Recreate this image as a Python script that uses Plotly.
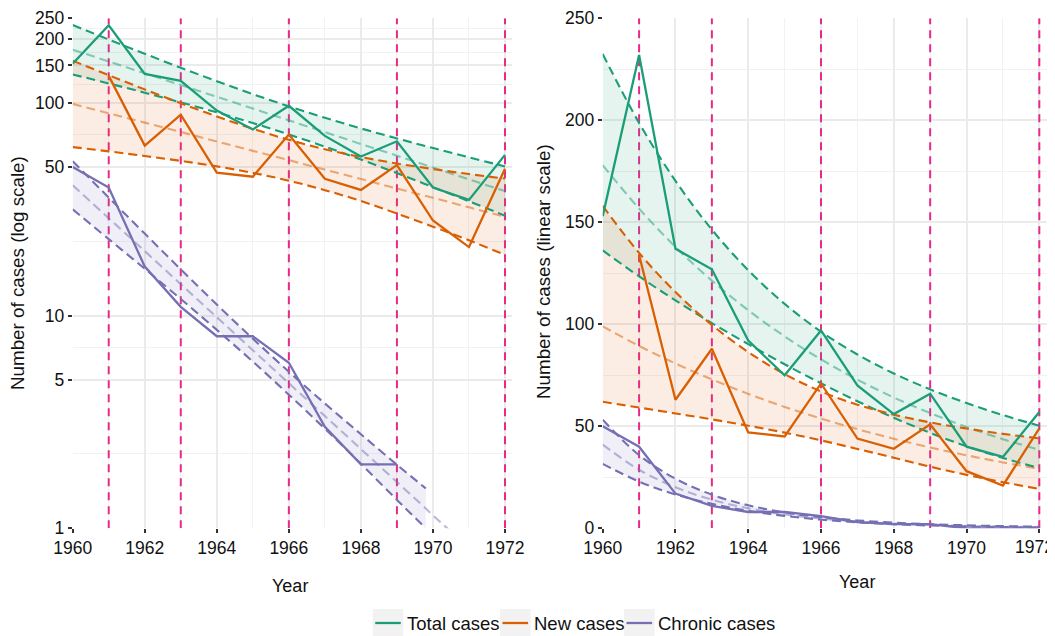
import math
import plotly.graph_objects as go

# ---------------- data ----------------
years = [1960, 1961, 1962, 1963, 1964, 1965, 1966, 1967, 1968, 1969, 1970, 1971, 1972]
total_cases = [153, 232, 137, 127, 92, 75, 97, 70, 56, 66, 40, 35, 57]
new_cases = [None, 134, 63, 88, 47, 45, 71, 44, 39, 51, 28, 21, 49]
chronic_cases = [50, 40, 17, 11, 8, 8, 6, 3, 2, 2, 0, 0, 0]

fit_years = [1960, 1961, 1962, 1963, 1964, 1965, 1966, 1967, 1968, 1969, 1970, 1971, 1972]
total_fit_mean = [178.0, 156.7, 137.9, 121.4, 106.9, 94.1, 82.8, 72.9, 64.1, 56.5, 49.7, 43.7, 38.5]
total_fit_upper = [232.5, 198.7, 170.3, 146.4, 126.5, 110.0, 96.4, 85.2, 75.9, 68.1, 61.4, 55.5, 50.3]
total_fit_lower = [136.2, 123.5, 111.7, 100.6, 90.3, 80.4, 71.1, 62.3, 54.2, 46.8, 40.2, 34.5, 29.5]

new_fit_mean = [99.0, 89.4, 80.8, 73.0, 65.9, 59.5, 53.8, 48.6, 43.9, 39.6, 35.8, 32.3, 29.2]
new_fit_upper = [158.0, 135.0, 115.8, 99.7, 86.4, 75.6, 67.1, 60.6, 55.7, 51.9, 48.9, 46.3, 44.1]
new_fit_lower = [62.0, 59.2, 56.3, 53.4, 50.3, 46.9, 43.1, 38.9, 34.6, 30.2, 26.2, 22.6, 19.3]

chronic_fit_years = [1960, 1961, 1962, 1963, 1964, 1965, 1966, 1967, 1968, 1969, 1969.8, 1970, 1971, 1972]
chronic_fit_mean = [41.0, 28.7, 20.1, 14.05, 9.83, 6.88, 4.81, 3.37, 2.36, 1.65, 1.24, 1.15, 0.81, 0.56]
chronic_fit_upper = [53.2, 35.9, 24.3, 16.5, 11.27, 7.79, 5.45, 3.86, 2.77, 1.99, 1.54, 1.44, 1.05, 0.76]
chronic_fit_lower = [31.6, 22.9, 16.6, 11.97, 8.57, 6.08, 4.25, 2.94, 2.01, 1.36, 1.00, 0.92, 0.62, 0.42]

change_years = [1961, 1963, 1966, 1969, 1972]

series_names = ["Total cases", "New cases", "Chronic cases"]

log_tick_vals = [1, 5, 10, 50, 100, 150, 200, 250]
lin_tick_vals = [0, 50, 100, 150, 200, 250]
x_tick_vals = [1960, 1962, 1964, 1966, 1968, 1970, 1972]

# ---------------- styling ----------------
GREEN = "#1B9E77"
ORANGE = "#D95F02"
PURPLE = "#7570B3"
PINK = "#E7298A"
FONT = "Liberation Sans, Arial, sans-serif"
W, H = 1055, 636
OX, OY = 8, 8  # the page body offsets the figure by its default margin


def px_x(p):
    return (p - OX) / W


def px_y(p):
    return 1 - (p - OY) / H


def rgba(h, a):
    h = h.lstrip("#")
    r, g, b = int(h[0:2], 16), int(h[2:4], 16), int(h[4:6], 16)
    return f"rgba({r},{g},{b},{a})"


series = [
    (series_names[0], GREEN, total_cases, fit_years, total_fit_mean, total_fit_upper, total_fit_lower),
    (series_names[1], ORANGE, new_cases, fit_years, new_fit_mean, new_fit_upper, new_fit_lower),
    (series_names[2], PURPLE, chronic_cases, chronic_fit_years, chronic_fit_mean, chronic_fit_upper, chronic_fit_lower),
]

log_range = [1, 250]
lin_range = [0, 250]

fig = go.Figure()
panels = [("x", "y", True, log_range), ("x2", "y2", False, lin_range)]

for xa, ya, is_log, yr_lim in panels:
    # vertical change-year markers, spanning the full y axis
    vx, vy = [], []
    for yr in change_years:
        vx += [yr, yr, None]
        vy += [yr_lim[0], yr_lim[1], None]
    fig.add_trace(go.Scatter(x=vx, y=vy, xaxis=xa, yaxis=ya, mode="lines",
                             line=dict(color=PINK, width=2, dash="8px,6px"),
                             hoverinfo="skip", showlegend=False, connectgaps=False))
    # ribbons
    for name, col, data, fy, fm, fu, fl in series:
        keep = [i for i in range(len(fy)) if (not is_log) or fl[i] >= 0.999]
        xs = [fy[i] for i in keep]
        fig.add_trace(go.Scatter(x=xs, y=[fl[i] for i in keep], xaxis=xa, yaxis=ya, mode="lines",
                                 line=dict(width=0, shape="spline"), hoverinfo="skip", showlegend=False))
        fig.add_trace(go.Scatter(x=xs, y=[fu[i] for i in keep], xaxis=xa, yaxis=ya, mode="lines",
                                 line=dict(width=0, shape="spline"), fill="tonexty",
                                 fillcolor=rgba(col, 0.11), hoverinfo="skip", showlegend=False))
    # CI dashed lines and mean dashed lines
    for name, col, data, fy, fm, fu, fl in series:
        keep = [i for i in range(len(fy)) if (not is_log) or fl[i] >= 0.999]
        xs = [fy[i] for i in keep]
        for arr in (fu, fl):
            fig.add_trace(go.Scatter(x=xs, y=[arr[i] for i in keep], xaxis=xa, yaxis=ya, mode="lines",
                                     line=dict(color=col, width=2.1, dash="9px,5px", shape="spline"),
                                     hoverinfo="skip", showlegend=False))
        fig.add_trace(go.Scatter(x=fy, y=fm, xaxis=xa, yaxis=ya, mode="lines",
                                 line=dict(color=rgba(col, 0.5), width=2.1, dash="9px,5px", shape="spline"),
                                 hoverinfo="skip", showlegend=False))
    # observed data lines (chronic drawn first so total/new sit on top)
    for name, col, data, fy, fm, fu, fl in reversed(series):
        pts = [(x, v) for x, v in zip(years, data) if v is not None and ((not is_log) or v > 0)]
        fig.add_trace(go.Scatter(x=[p[0] for p in pts], y=[p[1] for p in pts], xaxis=xa, yaxis=ya,
                                 mode="lines", line=dict(color=col, width=2.3),
                                 name=name, hoverinfo="skip", showlegend=False))

# axes
TICK_FONT = dict(family=FONT, size=17.5, color="#111111")
ydom = [px_y(528.3), px_y(18.3)]
common_x = dict(range=[1960, 1972.2], tickvals=x_tick_vals,
                ticks="outside", ticklen=4, tickwidth=1.6, tickcolor="#333333", automargin=False,
                ticklabeloverflow="allow",
                showgrid=True, gridcolor="#EBEBEB", gridwidth=1.6, zeroline=False, showline=False,
                tickfont=TICK_FONT,
                minor=dict(tickvals=[v + 1 for v in x_tick_vals[:-1]], showgrid=True,
                           gridcolor="#F2F2F2", gridwidth=0.9, ticks=""))
common_y = dict(ticks="outside", ticklen=4, tickwidth=1.6, tickcolor="#333333", automargin=False,
                ticklabeloverflow="allow",
                showgrid=True, gridcolor="#EBEBEB", gridwidth=1.6, zeroline=False, showline=False,
                tickfont=TICK_FONT, domain=ydom)

log_minor = [math.sqrt(a * b) for a, b in zip(log_tick_vals[:-1], log_tick_vals[1:])]
lin_minor = [v + 25 for v in lin_tick_vals[:-1]]

x_labels = [str(v) for v in x_tick_vals]
# the last label of the right panel sits at the picture edge; it is drawn as an annotation below
x2_labels = x_labels[:-1] + [""]

fig.update_layout(
    width=W, height=H, margin=dict(l=0, r=0, t=0, b=0),
    plot_bgcolor="white", paper_bgcolor="white", showlegend=False,
    xaxis=dict(domain=[px_x(72.7), px_x(512.2)], anchor="y", ticktext=x_labels, **common_x),
    xaxis2=dict(domain=[px_x(602.7), px_x(1046.6)], anchor="y2", ticktext=x2_labels, **common_x),
    yaxis=dict(type="log", range=[math.log10(log_range[0]), math.log10(log_range[1])],
               tickvals=log_tick_vals, ticktext=[str(v) for v in log_tick_vals], anchor="x",
               minor=dict(tickvals=log_minor, showgrid=True, gridcolor="#F2F2F2", gridwidth=0.9, ticks=""),
               **common_y),
    yaxis2=dict(range=lin_range, tickvals=lin_tick_vals, ticktext=[str(v) for v in lin_tick_vals],
                anchor="x2",
                minor=dict(tickvals=lin_minor, showgrid=True, gridcolor="#F2F2F2", gridwidth=0.9, ticks=""),
                **common_y),
)

fig.add_annotation(text=x_labels[-1], x=px_x(1034), y=px_y(535), xref="paper", yref="paper",
                   showarrow=False, xanchor="center", yanchor="top", font=TICK_FONT)

# axis titles
ann = [
    dict(text="Number of cases (log scale)", x=17, y=273, textangle=-90, size=18.8),
    dict(text="Number of cases (linear scale)", x=543, y=272, textangle=-90, size=18.8),
    dict(text="Year", x=290, y=586, textangle=0, size=18),
    dict(text="Year", x=857, y=582, textangle=0, size=18),
]
for a in ann:
    fig.add_annotation(text=a["text"], x=px_x(a["x"]), y=px_y(a["y"]), xref="paper", yref="paper",
                       showarrow=False, textangle=a["textangle"], xanchor="center", yanchor="middle",
                       font=dict(family=FONT, size=a["size"], color="#111111"))

# legend (ggplot style keys with grey background)
legend_colors = [GREEN, ORANGE, PURPLE]
key_left_px = [372.7, 500.0, 624.0]
key_w, key_top, key_bot, key_mid = 30.6, 609.0, 640.0, 623.0
for name, col, kx in zip(series_names, legend_colors, key_left_px):
    fig.add_shape(type="rect", xref="paper", yref="paper", x0=px_x(kx), x1=px_x(kx + key_w),
                  y0=px_y(key_bot), y1=px_y(key_top), fillcolor="#F2F2F2", line=dict(width=0))
    fig.add_shape(type="line", xref="paper", yref="paper", x0=px_x(kx + 2.5), x1=px_x(kx + key_w - 2.5),
                  y0=px_y(key_mid), y1=px_y(key_mid), line=dict(color=col, width=2.3))
    fig.add_annotation(text=name, x=px_x(kx + key_w + 1.5), y=px_y(key_mid), xref="paper", yref="paper",
                       showarrow=False, xanchor="left", yanchor="middle",
                       font=dict(family=FONT, size=18.5, color="#111111"))

fig.write_html("out.html")
